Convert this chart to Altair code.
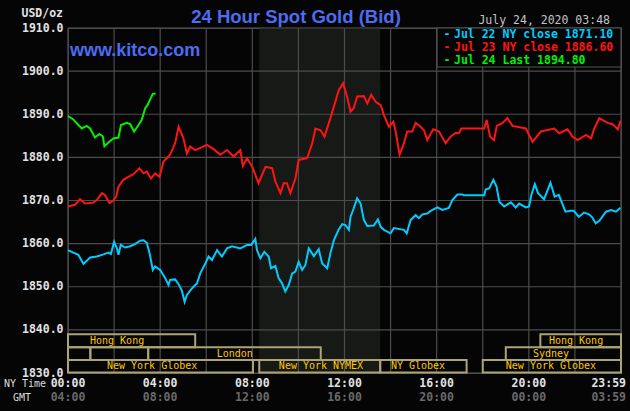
import altair as alt
import pandas as pd

# ---------------- data ----------------
CYAN_HOURS = [0, 0.23, 0.45, 0.67, 0.96, 1.25, 1.54, 1.75, 1.86, 2.0, 2.12, 2.19, 2.29, 2.48, 2.7, 2.91,
              3.13, 3.28, 3.42, 3.54, 3.68, 3.78, 4.0, 4.22, 4.36, 4.43, 4.65, 4.8, 4.94, 5.06, 5.16,
              5.38, 5.6, 5.74, 5.96, 6.1, 6.25, 6.47, 6.68, 6.9, 7.12, 7.48, 7.77, 7.95, 8.13, 8.2,
              8.35, 8.52, 8.71, 8.81, 9.0, 9.14, 9.29, 9.43, 9.58, 9.73, 9.87, 10.01, 10.16, 10.3,
              10.45, 10.67, 10.88, 11.03, 11.25, 11.39, 11.54, 11.75, 11.9, 12.04, 12.19, 12.26,
              12.4, 12.55, 12.7, 12.84, 12.99, 13.27, 13.45, 13.57, 13.71, 14.0, 14.14, 14.58, 14.7,
              14.87, 15.09, 15.23, 15.38, 15.59, 15.74, 16.03, 16.25, 16.53, 16.68, 16.9, 17.12,
              17.19, 18.06, 18.13, 18.28, 18.46, 18.6, 18.72, 18.93, 19.22, 19.43, 19.58, 19.87,
              20.01, 20.11, 20.26, 20.4, 20.66, 20.94, 21.12, 21.3, 21.45, 21.59, 21.8, 21.95,
              22.17, 22.39, 22.61, 22.75, 22.9, 23.06, 23.35, 23.57, 23.78, 23.98]
CYAN_VALUES = [1858.5, 1857.9, 1857.4, 1855.3, 1856.8, 1857.0, 1857.5, 1857.9, 1857.6, 1860.4, 1858.9,
               1857.4, 1859.7, 1859.1, 1859.4, 1859.9, 1860.7, 1860.8, 1860.2, 1857.8, 1853.9, 1854.7,
               1853.9, 1852.0, 1850.4, 1851.6, 1851.7, 1850.6, 1849.1, 1846.5, 1848.1, 1849.6, 1850.8,
               1853.1, 1855.4, 1857.0, 1856.2, 1858.5, 1857.0, 1858.9, 1859.4, 1858.9, 1859.7, 1859.7,
               1861.1, 1858.5, 1856.6, 1858.1, 1857.0, 1854.3, 1854.8, 1852.0, 1850.8, 1848.9, 1850.4,
               1853.1, 1853.5, 1855.8, 1853.9, 1855.0, 1858.9, 1857.1, 1858.7, 1855.4, 1854.3, 1857.8,
               1860.8, 1863.3, 1864.5, 1864.3, 1863.2, 1866.2, 1868.2, 1870.5, 1869.3, 1865.5, 1864.1,
               1864.2, 1865.6, 1863.9, 1863.2, 1862.4, 1863.6, 1863.2, 1862.4, 1865.5, 1866.6, 1865.9,
               1866.8, 1867.0, 1867.6, 1868.4, 1867.8, 1868.3, 1870.1, 1871.4, 1871.4, 1871.2, 1871.2,
               1872.6, 1872.8, 1874.8, 1873.2, 1869.7, 1868.6, 1869.6, 1868.4, 1869.3, 1868.4, 1868.6,
               1871.3, 1873.8, 1871.7, 1870.3, 1874.1, 1870.9, 1871.3, 1869.3, 1867.4, 1867.6, 1867.6,
               1866.2, 1867.2, 1866.8, 1866.1, 1864.7, 1865.3, 1867.4, 1867.8, 1867.4, 1868.3]

RED_HOURS = [0, 0.3, 0.52, 0.74, 1.1, 1.25, 1.47, 1.6, 1.8, 1.97, 2.09, 2.19, 2.4, 2.62, 2.84, 3.1,
             3.28, 3.42, 3.6, 3.78, 3.97, 4.07, 4.14, 4.43, 4.65, 4.8, 5.01, 5.16, 5.3, 5.52, 6.03,
             6.32, 6.61, 6.9, 7.19, 7.48, 7.59, 7.77, 7.99, 8.27, 8.57, 8.86, 9.0, 9.22, 9.36, 9.5,
             9.65, 9.87, 10.01, 10.38, 10.6, 10.74, 10.96, 11.13, 11.39, 11.54, 11.75, 11.94, 12.11,
             12.26, 12.4, 12.55, 12.84, 12.99, 13.16, 13.35, 13.57, 13.71, 13.93, 14.12, 14.22,
             14.39, 14.58, 14.72, 14.94, 15.09, 15.3, 15.45, 15.59, 15.85, 16.1, 16.39, 16.6, 16.83,
             16.97, 17.07, 18.06, 18.17, 18.32, 18.49, 18.61, 18.86, 19.07, 19.29, 19.87, 20.16,
             20.52, 21.1, 21.32, 21.68, 21.9, 22.12, 22.48, 22.7, 22.84, 23.06, 23.42, 23.64, 23.86,
             23.98]
RED_VALUES = [1868.6, 1869.0, 1870.3, 1869.3, 1869.5, 1870.1, 1871.7, 1871.3, 1869.4, 1870.0, 1870.9,
              1873.2, 1874.8, 1875.5, 1876.1, 1877.5, 1876.3, 1876.7, 1875.1, 1876.3, 1875.5, 1877.5,
              1879.0, 1880.6, 1883.3, 1887.1, 1884.4, 1880.9, 1882.5, 1881.7, 1882.9, 1881.9, 1880.6,
              1881.7, 1880.2, 1881.7, 1878.0, 1879.8, 1877.9, 1874.0, 1877.8, 1877.5, 1874.4, 1871.7,
              1874.0, 1874.0, 1871.7, 1875.1, 1879.4, 1879.8, 1883.3, 1886.7, 1886.3, 1884.8, 1889.1,
              1891.8, 1895.6, 1897.2, 1894.1, 1890.6, 1891.4, 1894.1, 1894.2, 1892.5, 1894.5, 1892.9,
              1892.1, 1889.8, 1887.1, 1888.3, 1886.0, 1880.6, 1883.3, 1886.0, 1886.0, 1888.0, 1887.1,
              1886.3, 1884.0, 1886.5, 1886.0, 1883.3, 1884.8, 1885.7, 1885.6, 1886.7, 1886.7, 1888.7,
              1884.8, 1884.0, 1887.3, 1888.0, 1889.1, 1887.3, 1886.7, 1883.6, 1886.0, 1886.7, 1885.6,
              1886.5, 1884.8, 1884.0, 1885.2, 1884.4, 1886.7, 1889.1, 1888.0, 1887.7, 1886.5, 1888.5]

GREEN_HOURS = [0, 0.23, 0.38, 0.6, 0.81, 0.96, 1.17, 1.36, 1.51, 1.58, 1.83, 1.97, 2.19, 2.3, 2.55,
               2.7, 2.87, 3.06, 3.2, 3.35, 3.45, 3.57, 3.68, 3.8]
GREEN_VALUES = [1889.6, 1888.8, 1887.9, 1886.7, 1887.3, 1886.7, 1884.6, 1885.4, 1884.9, 1882.6,
                1883.8, 1884.4, 1884.6, 1887.5, 1888.0, 1887.7, 1886.0, 1887.5, 1888.7, 1891.4,
                1892.1, 1893.5, 1894.7, 1894.8]

SERIES = ["Jul 22", "Jul 23", "Jul 24"]
SERIES_COLORS = ["#00ccff", "#ff1414", "#00f000"]
LEGEND_LABELS = ["Jul 22 NY close 1871.10", "Jul 23 NY close 1886.60", "Jul 24 Last 1894.80"]

GRID_HOURS = list(range(0, 25, 2))
PRICE_TICKS = list(range(1830, 1911, 10))

NY_TIME_HOURS = [0, 4, 8, 12, 16, 20]
NY_TIME_LABELS = ["00:00", "04:00", "08:00", "12:00", "16:00", "20:00"]
GMT_LABELS = ["04:00", "08:00", "12:00", "16:00", "20:00", "00:00"]
END_NY_LABEL = "23:59"
END_GMT_LABEL = "03:59"

NYMEX_START = [8.3]
NYMEX_END = [13.55]

SESSION_NAMES = ["New York Globex", "New York NYMEX", "NY Globex", "New York Globex",
                 "", "", "London", "Sydney",
                 "Hong Kong", "Hong Kong"]
SESSION_START = [0, 8.3, 13.55, 18.0, 0, 0.97, 3.48, 19.0, 0, 20.5]
SESSION_END = [8.03, 13.55, 17.3, 24, 0.97, 3.48, 10.97, 24, 5.52, 24]
SESSION_LABEL_AT = [3.65, 10.98, 15.19, 20.96, 0.5, 2.2, 7.24, 20.96, 2.13, 22.05]
SESSION_ROW = [0, 0, 0, 0, 1, 1, 1, 1, 2, 2]
ROW_BOTTOM = [1830.1, 1833.0, 1836.0]
ROW_TOP = [1833.0, 1836.0, 1839.0]

# ---------------- tables ----------------
lines_df = pd.concat([
    pd.DataFrame({"hour": CYAN_HOURS, "price": CYAN_VALUES, "series": SERIES[0]}),
    pd.DataFrame({"hour": RED_HOURS, "price": RED_VALUES, "series": SERIES[1]}),
    pd.DataFrame({"hour": GREEN_HOURS, "price": GREEN_VALUES, "series": SERIES[2]}),
])
sess_df = pd.DataFrame({
    "name": SESSION_NAMES, "start": SESSION_START, "end": SESSION_END,
    "at": SESSION_LABEL_AT,
    "lo": [ROW_BOTTOM[r] for r in SESSION_ROW],
    "hi": [ROW_TOP[r] for r in SESSION_ROW],
    "mid": [(ROW_BOTTOM[r] + ROW_TOP[r]) / 2 for r in SESSION_ROW],
})

BG = "#050506"
GRID = "#4c4c4c"
MONO = "DejaVu Sans Mono"
X_SCALE = alt.Scale(domain=[0, 24], nice=False, zero=False)
Y_SCALE = alt.Scale(domain=[1830, 1910], nice=False, zero=False)
X_AXIS = alt.Axis(labels=False, ticks=False, domain=False, grid=False, title=None)
Y_AXIS = alt.Axis(values=PRICE_TICKS, format=".1f", labelFont=MONO, labelFontWeight="bold",
                  labelFontSize=11.5, labelColor="#e2e2e2", labelPadding=5, ticks=False,
                  domain=False, grid=False, title=None, labelOverlap=False)


def X(field):
    return alt.X(field, scale=X_SCALE, axis=X_AXIS)


def Y(field):
    return alt.Y(field, scale=Y_SCALE, axis=Y_AXIS)


shade = alt.Chart(pd.DataFrame({"start": NYMEX_START, "end": NYMEX_END})).mark_rect(
    color="#161916").encode(x=X("start:Q"), x2="end:Q")

vgrid = alt.Chart(pd.DataFrame({"hour": GRID_HOURS})).mark_rule(
    color=GRID, strokeWidth=1.2).encode(x=X("hour:Q"))
hgrid = alt.Chart(pd.DataFrame({"price": PRICE_TICKS})).mark_rule(
    color=GRID, strokeWidth=1.2).encode(y=Y("price:Q"))

sess_box = alt.Chart(sess_df).mark_rect(
    fillOpacity=0, stroke="#aaa476", strokeWidth=2).encode(
    x=X("start:Q"), x2="end:Q", y=Y("lo:Q"), y2="hi:Q")
sess_txt = alt.Chart(sess_df).mark_text(
    font=MONO, fontSize=10, color="#ffc800", baseline="middle").encode(
    x=X("at:Q"), y=Y("mid:Q"), text="name:N")

lines = alt.Chart(lines_df).mark_line(strokeWidth=2).encode(
    x=X("hour:Q"), y=Y("price:Q"),
    color=alt.Color("series:N", scale=alt.Scale(domain=SERIES, range=SERIES_COLORS), legend=None),
    detail="series:N")


def label(text, x, y, **kw):
    return alt.Chart(pd.DataFrame({"t": [text]})).mark_text(**kw).encode(
        x=alt.value(x), y=alt.value(y), text="t:N")


layers = [shade, vgrid, hgrid, sess_box, sess_txt, lines]

# legend box
layers.append(alt.Chart(pd.DataFrame({"t": [""]})).mark_rect(
    fill=BG, stroke="#555555", strokeWidth=1.2).encode(
    x=alt.value(369), x2=alt.value(553), y=alt.value(0), y2=alt.value(39)))
for i, (lab, col) in enumerate(zip(LEGEND_LABELS, SERIES_COLORS)):
    yy = 7 + i * 12.8
    layers.append(label("-", 379, yy, font=MONO, fontSize=11.5, fontWeight="bold",
                        color=col, align="center", baseline="middle"))
    layers.append(label(lab, 386, yy, font=MONO, fontSize=11.5, fontWeight="bold",
                        color=col, align="left", baseline="middle"))

# header texts
layers.append(label("24 Hour Spot Gold (Bid)", 228, -5, font="Liberation Sans", fontSize=18.5,
                    fontWeight="bold", color="#4d6cf0", align="center", baseline="alphabetic"))
layers.append(label("www.kitco.com", 2, 28, font="Liberation Sans", fontSize=18,
                    fontWeight="bold", color="#4d6cf0", align="left", baseline="alphabetic"))
layers.append(label("July 24, 2020 03:48", 542, -7, font=MONO, fontSize=11.5,
                    color="#c4c4c4", align="right", baseline="middle"))
layers.append(label("USD/oz", -5, -14, font=MONO, fontSize=11.5, fontWeight="bold",
                    color="#e2e2e2", align="right", baseline="middle"))

# bottom time labels
tl_df = pd.DataFrame({"hour": NY_TIME_HOURS, "ny": NY_TIME_LABELS, "gmt": GMT_LABELS})
layers.append(alt.Chart(tl_df).mark_text(font=MONO, fontSize=11.5, fontWeight="bold",
                                         color="#e2e2e2", baseline="middle").encode(
    x=X("hour:Q"), y=alt.value(356), text="ny:N"))
layers.append(alt.Chart(tl_df).mark_text(font=MONO, fontSize=11.5, fontWeight="bold",
                                         color="#6a6a6a", baseline="middle").encode(
    x=X("hour:Q"), y=alt.value(370), text="gmt:N"))
layers.append(label(END_NY_LABEL, 558, 356, font=MONO, fontSize=11.5, fontWeight="bold",
                    color="#e2e2e2", align="right", baseline="middle"))
layers.append(label(END_GMT_LABEL, 558, 370, font=MONO, fontSize=11.5, fontWeight="bold",
                    color="#6a6a6a", align="right", baseline="middle"))
layers.append(label("NY Time", -64, 356, font=MONO, fontSize=10, color="#dcdcdc",
                    align="left", baseline="middle"))
layers.append(label("GMT", -55, 370, font=MONO, fontSize=10, color="#dcdcdc",
                    align="left", baseline="middle"))

chart = alt.layer(*layers).properties(
    width=553, height=345,
    autosize=alt.AutoSizeParams(type="none"),
    padding={"left": 68, "top": 28, "right": 9, "bottom": 38},
    background=BG,
).configure_view(stroke=GRID, strokeWidth=1.2, fill=BG)

chart.save("out.html", embed_options={"renderer": "svg", "actions": False})
